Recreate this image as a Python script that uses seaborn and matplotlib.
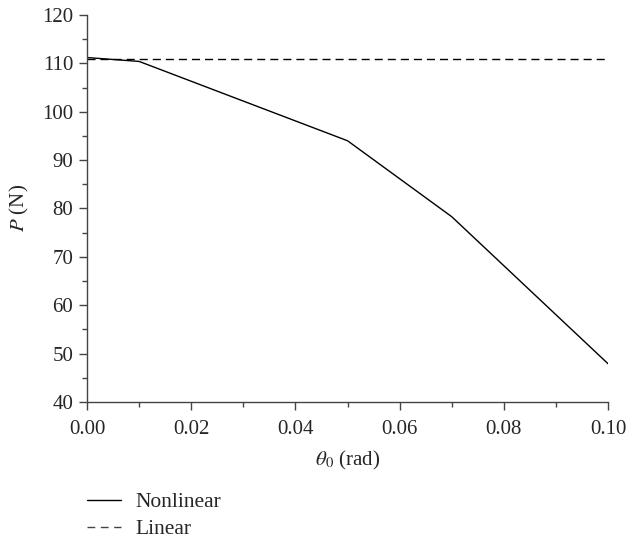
import matplotlib
matplotlib.use("Agg")
import matplotlib.pyplot as plt
import seaborn as sns
import pandas as pd
from matplotlib.ticker import MultipleLocator
from matplotlib.lines import Line2D

theta = [0.0, 0.01, 0.05, 0.07, 0.10]
p_nonlinear = [111.2, 110.4, 94.0, 78.3, 47.9]
theta_lin = [0.0, 0.10]
p_linear = [111.0, 111.0]

df = pd.concat([
    pd.DataFrame({"theta": theta, "P": p_nonlinear, "model": "Nonlinear"}),
    pd.DataFrame({"theta": theta_lin, "P": p_linear, "model": "Linear"}),
])

sns.set_style("ticks")
plt.rcParams["font.family"] = ["Liberation Serif", "DejaVu Serif"]
plt.rcParams["mathtext.fontset"] = "stix"

fig = plt.figure(figsize=(6.27, 5.39), dpi=100)
ax = fig.add_axes([0.1388, 0.2542, 0.831, 0.718])
sns.lineplot(data=df, x="theta", y="P", style="model", color="black",
             dashes={"Nonlinear": "", "Linear": (5.8, 3.6)}, linewidth=1.0,
             ax=ax, legend=False)

ax.set_xlim(0, 0.10)
ax.set_ylim(40, 120)
ax.xaxis.set_minor_locator(MultipleLocator(0.01))
ax.yaxis.set_major_locator(MultipleLocator(10))
ax.yaxis.set_minor_locator(MultipleLocator(5))
ax.set_xticks([0.0, 0.02, 0.04, 0.06, 0.08, 0.10])
ax.set_xticklabels(["0.00", "0.02", "0.04", "0.06", "0.08", "0.10"])
ax.tick_params(axis="both", which="major", direction="out", length=6, width=1,
               labelsize=15, color="#444444", pad=4)
ax.tick_params(axis="x", which="major", pad=7)
ax.tick_params(axis="both", which="minor", direction="out", length=3.6, width=1,
               color="#444444")
for s in ["top", "right"]:
    ax.spines[s].set_visible(False)
for s in ["left", "bottom"]:
    ax.spines[s].set_color("#444444")
    ax.spines[s].set_linewidth(1.0)

ax.set_xlabel(r"$\theta_0$ (rad)", fontsize=15, labelpad=7)
ax.set_ylabel(r"$P$ (N)", fontsize=15, labelpad=8)

handles = [Line2D([], [], color="black", lw=1.0),
           Line2D([], [], color="#444444", lw=1.0, dashes=(5.6, 4.0))]
fig.legend(handles, ["Nonlinear", "Linear"], loc="upper left",
           bbox_to_anchor=(0.138, 0.087), frameon=False, fontsize=15.5,
           handlelength=1.62, handletextpad=0.65, labelspacing=0.32,
           borderpad=0, borderaxespad=0)

fig.savefig("out.png", dpi=100)
